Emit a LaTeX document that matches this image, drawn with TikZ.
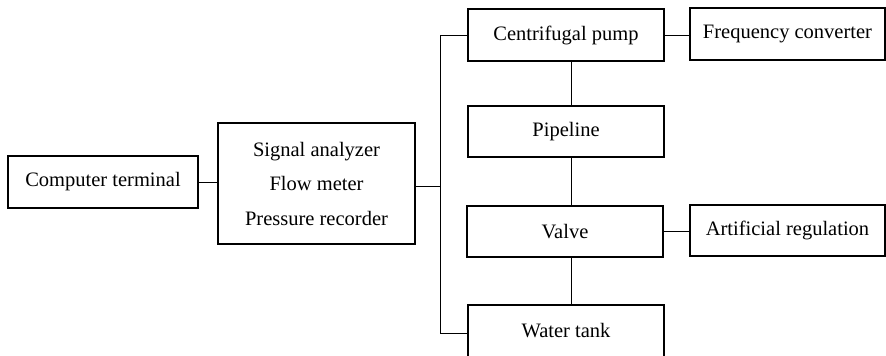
\documentclass[tikz,border=0pt]{standalone}
\usepackage{fontspec}
\setmainfont{Liberation Serif}
\begin{document}
\begin{tikzpicture}[x=1pt,y=-1pt,
  box/.style={draw, line width=1.3pt, inner sep=0pt, align=center,
    font=\fontsize{20.5}{34.5}\selectfont},
  link/.style={line width=0.9pt}]
\useasboundingbox (0,0) rectangle (886,356);
\clip (0,0) rectangle (886,356);
% component boxes
\node[box, minimum width=190, minimum height=52] (ct) at (103,182) {Computer terminal};
\node[box, minimum width=197, minimum height=121] (sa) at (316.5,183.5)
  {Signal analyzer\\Flow meter\\Pressure recorder};
\node[box, minimum width=196, minimum height=52] (cp) at (566,35) {Centrifugal pump};
\node[box, minimum width=195, minimum height=52] (fc) at (787.5,34) {Frequency converter};
\node[box, minimum width=196, minimum height=51] (pl) at (566,131.5) {Pipeline};
\node[box, minimum width=196, minimum height=51] (va) at (565,231.5) {Valve};
\node[box, minimum width=195, minimum height=51] (ar) at (787.5,230.5) {Artificial regulation};
\node[box, minimum width=196, minimum height=56, text depth=0pt] (wt) at (566,333)
  {\raisebox{5pt}{Water tank}};
% bus and vertical chain positions
\coordinate (bus) at (440,186);
\coordinate (spine) at (571,0);
% connectors
\draw[link] (ct.east) -- (ct.east -| sa.west);
\draw[link] (sa.east |- bus) -- (bus);
\draw[link] (cp.west) -- (cp.west -| bus) -- (wt.west -| bus) -- (wt.west);
\draw[link] (cp.south -| spine) -- (pl.north -| spine);
\draw[link] (pl.south -| spine) -- (va.north -| spine);
\draw[link] (va.south -| spine) -- (wt.north -| spine);
\draw[link] (cp.east) -- (cp.east -| fc.west);
\draw[link] (va.east) -- (va.east -| ar.west);
\end{tikzpicture}
\end{document}
